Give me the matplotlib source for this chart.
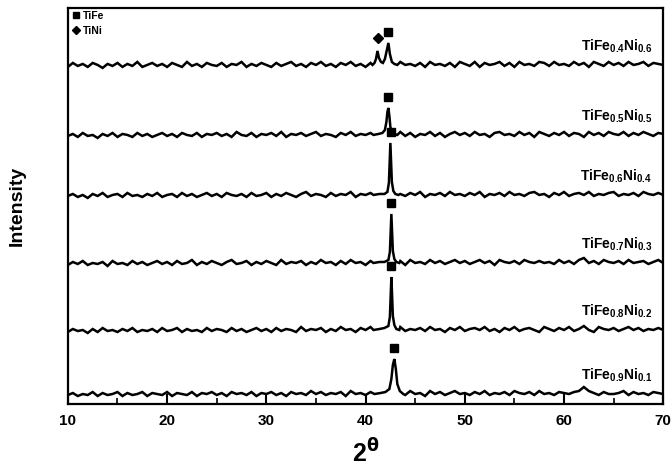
import numpy as np
import matplotlib
matplotlib.use('Agg')
import matplotlib.pyplot as plt
from matplotlib.lines import Line2D

plt.rcParams['font.family'] = ['Liberation Sans', 'DejaVu Sans']
plt.rcParams['font.weight'] = 'bold'
plt.rcParams['mathtext.fontset'] = 'custom'
plt.rcParams['mathtext.rm'] = 'DejaVu Sans'
plt.rcParams['mathtext.bf'] = 'Liberation Sans:bold'
plt.rcParams['mathtext.default'] = 'rm'

# ---------------------------------------------------------
# Data (arbitrary intensity units)
# ---------------------------------------------------------
two_theta = np.arange(10, 70.01, 0.5)

labels = [r'TiFe$_{\mathbf{0.4}}$Ni$_{\mathbf{0.6}}$', r'TiFe$_{\mathbf{0.5}}$Ni$_{\mathbf{0.5}}$',
          r'TiFe$_{\mathbf{0.6}}$Ni$_{\mathbf{0.4}}$', r'TiFe$_{\mathbf{0.7}}$Ni$_{\mathbf{0.3}}$',
          r'TiFe$_{\mathbf{0.8}}$Ni$_{\mathbf{0.2}}$', r'TiFe$_{\mathbf{0.9}}$Ni$_{\mathbf{0.1}}$']

# background counts on the 0.5 degree grid
bg_04 = [1,5,2,4,1,5,3,0,4,2, 5,1,4,2,6,1,3,5,2,4, 1,5,3,1,6,2,4,1,5,3, 2,5,1,4,3,6,1,4,2,5,
         3,1,5,2,4,6,2,4,1,5, 3,6,2,4,1,5,3,6,2,4, 1,5,3,6,2,4,1,6,3,4, 2,5,1,6,3,4,2,5,1,6,
         4,2,6,1,5,3,4,6,2,5, 1,6,3,4,2,6,5,2,6,3, 4,2,6,3,5,1,6,4,2,6, 3,5,2,6,3,4,6,2,5,4, 3]
bg_05 = [2,4,1,5,2,3,0,4,2,5, 1,4,3,1,5,2,4,1,3,5, 2,4,1,5,3,2,5,1,4,3, 5,2,4,1,6,3,2,5,1,4,
         3,5,2,6,1,4,3,5,2,4, 6,2,4,3,1,5,3,6,2,4, 3,5,1,6,2,4,3,6,2,5, 1,4,3,6,2,5,1,4,6,3,
         5,2,6,3,4,1,5,6,3,4, 2,6,3,5,1,6,4,2,5,3, 6,2,5,4,1,6,3,5,2,6, 4,3,6,2,5,3,6,4,2,5, 4]
bg_06 = [2,4,1,3,0,4,2,5,1,3, 4,1,5,2,3,1,4,2,5,1, 3,4,1,5,2,4,1,3,5,2, 4,1,5,3,2,4,1,5,2,3,
         5,1,4,2,5,3,1,4,6,2, 4,3,1,5,2,4,3,6,1,4, 3,5,2,4,1,6,3,4,2,5, 3,6,1,4,3,5,2,6,3,4,
         2,5,3,6,1,4,3,5,2,6, 3,4,2,5,6,3,4,1,5,3, 6,2,4,5,3,6,2,4,3,5, 6,2,4,3,5,2,6,4,3,5, 3]
bg_07 = [1,4,2,5,1,3,2,4,0,5, 2,3,1,5,2,4,1,3,5,2, 4,1,5,2,3,6,1,4,2,5, 3,1,4,6,2,3,5,1,4,2,
         5,3,1,6,2,4,3,5,1,4, 2,6,3,4,1,5,2,6,3,4, 1,5,3,6,2,4,3,5,1,6, 3,4,2,6,3,5,2,4,6,3,
         5,2,4,6,3,5,1,6,4,3, 5,2,6,4,3,5,3,4,2,6, 3,5,2,6,8,3,5,2,6,4, 3,5,2,6,3,4,5,2,4,6, 3]
bg_08 = [1,4,2,3,0,4,1,5,2,3, 1,4,2,5,1,3,2,4,1,5, 2,3,5,1,4,2,3,1,5,2, 4,3,1,5,2,4,1,3,5,2,
         4,1,5,2,4,3,1,6,2,4, 3,5,1,4,2,6,3,4,1,5, 3,6,2,4,3,5,1,6,2,4, 3,5,2,6,3,4,1,5,3,6,
         2,4,5,3,6,2,4,1,5,3, 6,2,4,5,3,1,6,4,2,5, 3,6,2,4,7,3,1,6,4,3, 5,2,4,6,3,5,2,4,3,5, 3]
bg_09 = [2,4,1,3,2,5,1,4,2,3, 5,1,4,2,3,5,1,4,3,2, 5,1,4,3,2,5,1,4,3,5, 2,4,1,5,3,4,2,5,1,4,
         3,5,2,4,1,5,3,4,2,6, 3,5,2,4,3,5,1,6,3,4, 2,5,3,6,2,4,3,5,2,6, 3,4,1,6,3,5,2,4,6,3,
         4,2,5,3,6,2,4,3,5,2, 6,4,3,5,2,6,3,4,2,5, 4,3,5,6,10,6,4,2,5,3, 3,4,6,2,5,3,4,2,5,4, 3]

# hand-read Bragg peak profiles (two_theta, counts)
pk_04_x = [40.7, 40.9, 41.05, 41.2, 41.35, 41.55, 41.75, 41.95, 42.15, 42.3, 42.45, 42.65, 42.9, 43.2]
pk_04_y = [3, 5, 9, 17, 10, 6, 5, 9, 18, 25, 14, 6, 4, 3]
pk_05_x = [40.8, 41.3, 41.7, 41.95, 42.1, 42.2, 42.3, 42.4, 42.5, 42.65, 42.9, 43.2]
pk_05_y = [3, 4, 5, 8, 16, 26, 30, 22, 11, 6, 4, 3]
pk_06_x = [40.8, 41.4, 41.9, 42.2, 42.35, 42.45, 42.5, 42.55, 42.65, 42.8, 43.0, 43.3]
pk_06_y = [3, 4, 4, 6, 15, 40, 55, 42, 16, 7, 4, 3]
pk_07_x = [40.8, 41.4, 41.9, 42.3, 42.45, 42.55, 42.6, 42.65, 42.75, 42.9, 43.1, 43.4]
pk_07_y = [3, 4, 4, 6, 14, 38, 52, 40, 15, 7, 4, 3]
pk_08_x = [40.8, 41.4, 41.9, 42.3, 42.45, 42.55, 42.6, 42.65, 42.75, 42.9, 43.1, 43.4]
pk_08_y = [3, 4, 5, 7, 16, 42, 56, 44, 17, 8, 4, 3]
pk_09_x = [40.9, 41.5, 42.0, 42.4, 42.6, 42.75, 42.9, 43.05, 43.2, 43.45, 43.8]
pk_09_y = [3, 4, 5, 8, 18, 32, 38, 28, 13, 6, 3]

backgrounds = [bg_04, bg_05, bg_06, bg_07, bg_08, bg_09]
peaks_x = [pk_04_x, pk_05_x, pk_06_x, pk_07_x, pk_08_x, pk_09_x]
peaks_y = [pk_04_y, pk_05_y, pk_06_y, pk_07_y, pk_08_y, pk_09_y]

# phase markers: TiFe peak for every sample, TiNi only for x=0.6
tife_pos = [42.3, 42.3, 42.6, 42.6, 42.6, 42.9]
tini_pos = 41.25

# vertical stacking of the patterns
stack_offset = [336, 266, 206, 138, 71, 7]

# ---------------------------------------------------------
# Plot
# ---------------------------------------------------------
fig = plt.figure(figsize=(6.72, 4.66), dpi=100)
ax = fig.add_axes([0.101, 0.133, 0.886, 0.850])

for i in range(6):
    bg = np.array(backgrounds[i], dtype=float)
    px = np.array(peaks_x[i])
    py = np.array(peaks_y[i], dtype=float)
    keep = (two_theta < px[0]) | (two_theta > px[-1])
    x = np.concatenate([two_theta[keep], px])
    y = np.concatenate([bg[keep], py])
    order = np.argsort(x)
    x, y = x[order], y[order] + stack_offset[i]
    ax.plot(x, y, color='black', lw=1.8, solid_joinstyle='miter')

    top = py.max() + stack_offset[i]
    ax.plot(tife_pos[i], top + 11, marker='s', ms=5.5, color='black', ls='none')
    ax.text(68.9, stack_offset[i] + 22, labels[i], ha='right', va='center',
            fontsize=10, fontweight='bold')

ax.plot(tini_pos, stack_offset[0] + 17 + 13, marker='D', ms=5, color='black', ls='none')

handles = [Line2D([], [], marker='s', ms=4.5, color='black', ls='none'),
           Line2D([], [], marker='D', ms=4.5, color='black', ls='none')]
ax.legend(handles, ['TiFe', 'TiNi'], loc='upper left', frameon=False, fontsize=7.5,
          handletextpad=0.1, borderaxespad=0.2, labelspacing=0.45, handlelength=1.0,
          borderpad=0.1)

ax.set_xlim(10, 70)
ax.set_ylim(0, 396)
ax.set_xticks(np.arange(10, 71, 10))
ax.set_xticks(np.arange(15, 70, 10), minor=True)
ax.set_yticks([])
ax.tick_params(axis='x', which='major', direction='in', length=7, width=1.5,
               labelsize=11, pad=7)
ax.tick_params(axis='x', which='minor', direction='in', length=4, width=1.2)
for lbl in ax.get_xticklabels():
    lbl.set_fontweight('bold')
for s in ax.spines.values():
    s.set_linewidth(1.6)

ax.set_xlabel(r'2$^{\mathrm{θ}}$', fontsize=18, fontweight='bold', labelpad=8)
ax.set_ylabel('Intensity', fontsize=14, fontweight='bold', labelpad=30)

fig.savefig('out.png', dpi=100)
